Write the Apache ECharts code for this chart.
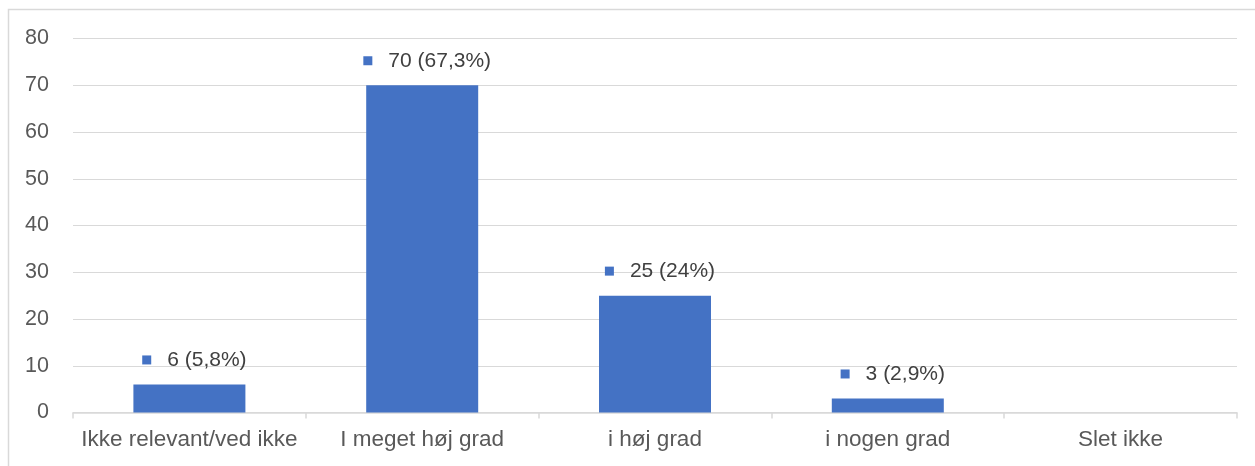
<!DOCTYPE html>
<html>
<head>
<meta charset="utf-8">
<script src="https://cdn.jsdelivr.net/npm/echarts@6/dist/echarts.min.js"></script>
<style>
html,body{margin:0;padding:0;background:#fff;}
#chart{width:1255px;height:466px;}
</style>
</head>
<body>
<div id="chart"></div>
<script>
const categories = ['Ikke relevant/ved ikke', 'I meget høj grad', 'i høj grad', 'i nogen grad', 'Slet ikke'];
const counts = [6, 70, 25, 3, 0];
const percentLabels = ['5,8%', '67,3%', '24%', '2,9%', ''];
const yTicks = { min: 0, max: 80, interval: 10 };

const FONT = 'Liberation Sans';
const chart = echarts.init(document.getElementById('chart'), null, { renderer: 'canvas' });

const seriesData = counts.map((v, i) => {
  const item = { value: v };
  if (!percentLabels[i]) item.label = { show: false };
  return item;
});

chart.setOption({
  animation: false,
  backgroundColor: '#ffffff',
  graphic: [{
    type: 'rect',
    shape: { x: 8.5, y: 9.5, width: 1400, height: 600 },
    style: { fill: 'none', stroke: '#d9d9d9', lineWidth: 1.5 },
    silent: true
  }],
  grid: { left: 73, right: 18, top: 38.5, bottom: 53.5 },
  xAxis: {
    type: 'category',
    data: categories,
    axisLine: { lineStyle: { color: '#d9d9d9', width: 1.5 } },
    axisTick: { show: true, length: 6, lineStyle: { color: '#d9d9d9', width: 1.5 } },
    axisLabel: { color: '#595959', fontFamily: FONT, fontSize: 22.5, margin: 16, interval: 0 }
  },
  yAxis: {
    type: 'value',
    min: yTicks.min, max: yTicks.max, interval: yTicks.interval,
    axisLine: { show: false },
    axisTick: { show: false },
    splitLine: { lineStyle: { color: '#d9d9d9', width: 1.2 } },
    axisLabel: { color: '#595959', fontFamily: FONT, fontSize: 21.5, margin: 24 }
  },
  series: [{
    type: 'bar',
    data: seriesData,
    barWidth: 112,
    itemStyle: { color: '#4472C4' },
    label: {
      show: true,
      position: 'top',
      distance: 14,
      offset: [5, 0],
      formatter: (p) => '{m|}{t|' + counts[p.dataIndex] + ' (' + percentLabels[p.dataIndex] + ')}',
      rich: {
        m: { width: 9, height: 9, backgroundColor: '#4472C4', verticalAlign: 'middle' },
        t: { color: '#404040', fontFamily: FONT, fontSize: 21, padding: [0, 0, 0, 16], verticalAlign: 'middle' }
      }
    }
  }]
});
</script>
</body>
</html>
